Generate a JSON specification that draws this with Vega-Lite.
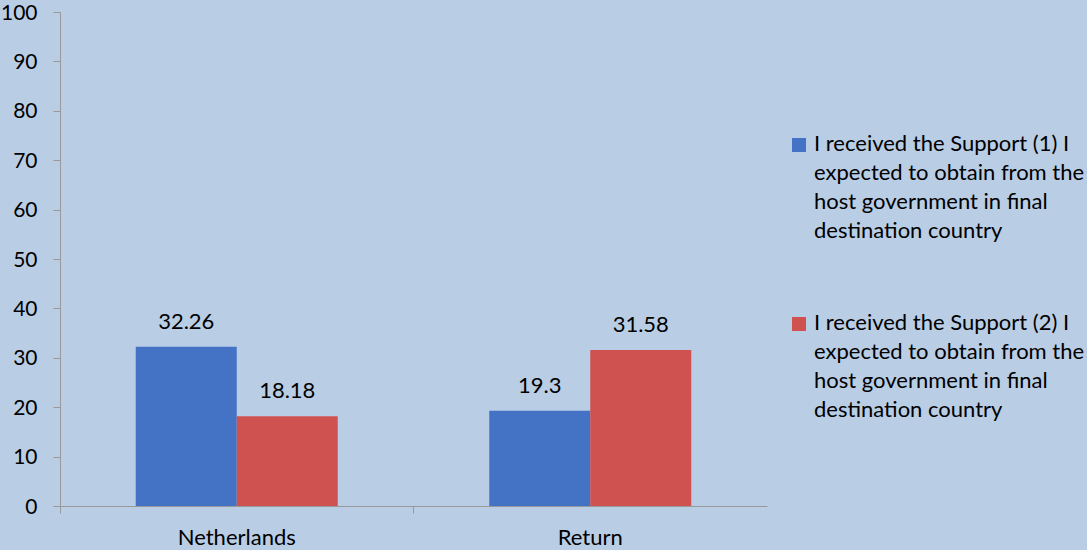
{
  "$schema": "https://vega.github.io/schema/vega-lite/v6.json",
  "autosize": "none",
  "width": 707,
  "height": 494,
  "padding": {"left": 60, "top": 12, "right": 320, "bottom": 44},
  "background": "#B9CDE5",
  "data": {
    "values": [
      {"country": "Netherlands", "series": "I received the Support (1) I|expected to obtain from the|host government in final|destination country", "value": 32.26},
      {"country": "Netherlands", "series": "I received the Support (2) I|expected to obtain from the|host government in final|destination country", "value": 18.18},
      {"country": "Return", "series": "I received the Support (1) I|expected to obtain from the|host government in final|destination country", "value": 19.3},
      {"country": "Return", "series": "I received the Support (2) I|expected to obtain from the|host government in final|destination country", "value": 31.58}
    ]
  },
  "encoding": {
    "x": {
      "field": "country", "type": "nominal",
      "scale": {"paddingInner": 0, "paddingOuter": 0},
      "axis": {
        "title": null, "labelAngle": 0, "bandPosition": 0,
        "domainColor": "#999999", "tickColor": "#999999", "tickSize": 7,
        "labelFontSize": 22, "labelColor": "#000000", "labelPadding": 14,
        "labelFont": "Lato"
      }
    },
    "xOffset": {
      "field": "series", "type": "nominal",
      "scale": {"paddingInner": 0, "paddingOuter": 0.75}
    },
    "y": {
      "field": "value", "type": "quantitative",
      "scale": {"domain": [0, 100], "nice": false},
      "axis": {
        "title": null, "values": [0,10,20,30,40,50,60,70,80,90,100],
        "grid": false, "domainColor": "#999999", "tickColor": "#999999", "tickSize": 7,
        "labelFontSize": 21, "labelColor": "#000000", "labelPadding": 16,
        "labelFont": "Lato", "labelOffset": 1
      }
    }
  },
  "layer": [
    {
      "mark": {"type": "bar"},
      "encoding": {
        "color": {
          "field": "series", "type": "nominal",
          "scale": {"range": ["#4472C4", "#D05250"]},
          "legend": {
            "title": null, "orient": "none", "legendX": 728, "legendY": 122,
            "symbolType": "square", "symbolSize": 196, "symbolStrokeWidth": 0,
            "labelExpr": "split(datum.label, '|')",
            "labelFontSize": 22, "labelFont": "Lato", "labelColor": "#000000",
            "labelLimit": 400, "labelOffset": 4, "rowPadding": 70,
            "labelBaseline": "top",
            "encode": {"labels": {"update": {"dy": {"value": -11}}}}
          }
        }
      }
    },
    {
      "mark": {"type": "text", "dy": -25, "fontSize": 22, "font": "Lato", "color": "#000000"},
      "encoding": {"text": {"field": "value", "type": "quantitative"}}
    }
  ],
  "config": {
    "view": {"stroke": null},
    "style": {"guide-label": {"lineHeight": 29}}
  }
}
